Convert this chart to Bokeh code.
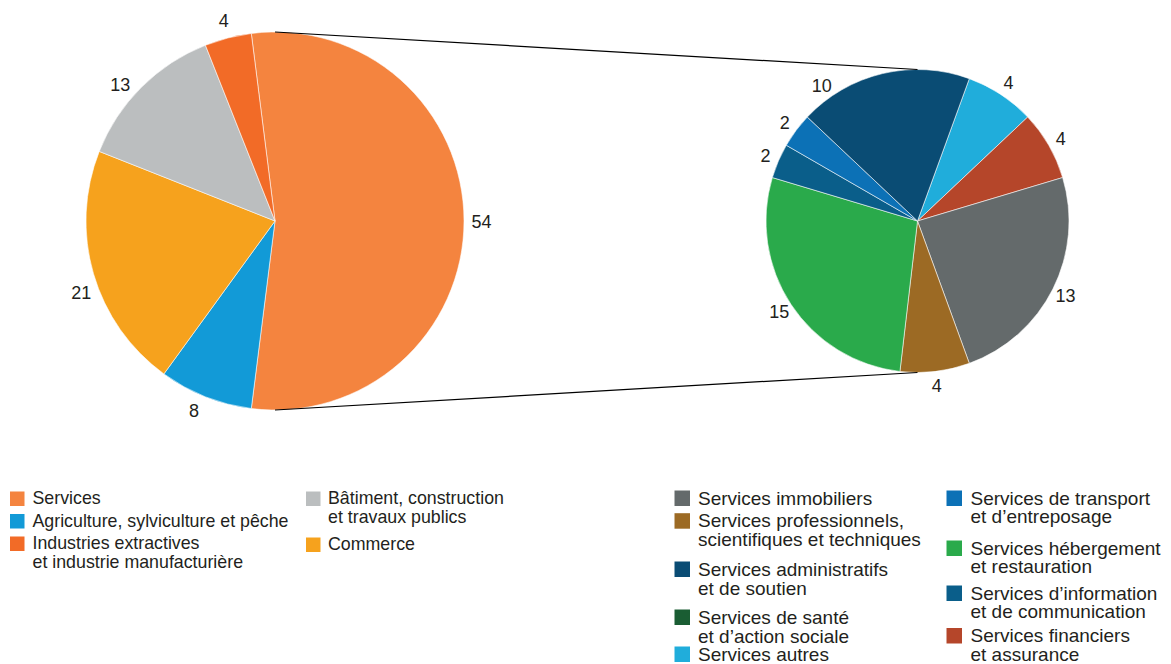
import math
from bokeh.plotting import figure
from bokeh.models import Range1d, ColumnDataSource
from bokeh.core.properties import value
from bokeh.embed import file_html
from bokeh.resources import INLINE

# ---------------- data ----------------
main_categories = ["Services",
                   "Agriculture, sylviculture et pêche",
                   "Commerce",
                   "Bâtiment, construction\net travaux publics",
                   "Industries extractives\net industrie manufacturière"]
main_values = [54, 8, 21, 13, 4]
main_colors = ["#F4843F", "#129AD7", "#F6A21D", "#BBBEBF", "#F26B27"]

service_categories = ["Services autres",
                      "Services financiers\net assurance",
                      "Services immobiliers",
                      "Services professionnels,\nscientifiques et techniques",
                      "Services hébergement\net restauration",
                      "Services d’information\net de communication",
                      "Services de transport\net d’entreposage",
                      "Services administratifs\net de soutien",
                      "Services de santé\net d’action sociale"]
service_values = [4, 4, 13, 4, 15, 2, 2, 10, 0]
service_colors = ["#20ADDB", "#B5462A", "#646A6B", "#9C6A24", "#2AAA4B",
                  "#0A5E8A", "#0C71B6", "#0A4C74", "#1A5D33"]

legend_left_col1 = ["Services", "Agriculture, sylviculture et pêche",
                    "Industries extractives\net industrie manufacturière"]
legend_left_col2 = ["Bâtiment, construction\net travaux publics", "Commerce"]
legend_right_col1 = ["Services immobiliers",
                     "Services professionnels,\nscientifiques et techniques",
                     "Services administratifs\net de soutien",
                     "Services de santé\net d’action sociale",
                     "Services autres"]
legend_right_col2 = ["Services de transport\net d’entreposage",
                     "Services hébergement\net restauration",
                     "Services d’information\net de communication",
                     "Services financiers\net assurance"]

# ---------------- layout ----------------
FONT = value("Liberation Sans")
TXT = "#231F20"
W, H = 1171, 664

p = figure(width=W, height=H, output_backend="svg", toolbar_location=None,
           x_range=Range1d(0, W), y_range=Range1d(-H, 0),
           x_axis_type=None, y_axis_type=None, min_border=0)
p.grid.visible = False
p.outline_line_color = None
p.background_fill_color = "white"

LEFT = dict(cx=274.5, cy=220.5, r=189.0, start=352.8, lab=17.5,
            nudge={"Bâtiment, construction\net travaux publics": -3.5, "Commerce": -4.0,
                   "Agriculture, sylviculture et pêche": 1.5})
RIGHT = dict(cx=917.0, cy=220.5, r=151.5, start=20.0, lab=14.0,
             nudge={"Services administratifs\net de soutien": -22.0})


def draw_pie(cfg, cats, vals, cols):
    total = float(sum(vals))
    a = cfg["start"]
    src = dict(s=[], e=[], c=[])
    lx, ly, lt = [], [], []
    for cat, v, col in zip(cats, vals, cols):
        if v <= 0:
            continue
        span = v / total * 360.0
        a0, a1 = a, a + span
        src["s"].append(math.radians(90 - a0))
        src["e"].append(math.radians(90 - a1))
        src["c"].append(col)
        mid = (a0 + a1) / 2 + cfg["nudge"].get(cat, 0.0)
        R = cfg["r"] + cfg["lab"]
        lx.append(cfg["cx"] + R * math.sin(math.radians(mid)))
        ly.append(-(cfg["cy"] - R * math.cos(math.radians(mid))))
        lt.append(str(v))
        a = a1
    p.wedge(x=cfg["cx"], y=-cfg["cy"], radius=cfg["r"], start_angle="s", end_angle="e",
            direction="clock", fill_color="c", line_color="white", line_width=0.8,
            line_alpha=0.7, source=ColumnDataSource(src))
    p.text(x=lx, y=ly, text=lt, text_align="center", text_baseline="middle",
           text_font=FONT, text_font_size="18px", text_color=TXT)


draw_pie(LEFT, main_categories, main_values, main_colors)
draw_pie(RIGHT, service_categories, service_values, service_colors)

# connector lines between the two pies
p.segment(x0=[LEFT["cx"], LEFT["cx"]],
          y0=[-(LEFT["cy"] - LEFT["r"]), -(LEFT["cy"] + LEFT["r"])],
          x1=[RIGHT["cx"], RIGHT["cx"]],
          y1=[-(RIGHT["cy"] - RIGHT["r"]), -(RIGHT["cy"] + RIGHT["r"])],
          line_color="black", line_width=1.2)

# ---------------- legends ----------------
color_of = dict(zip(main_categories, main_colors))
color_of.update(zip(service_categories, service_colors))


def draw_legend(items, tops, sq_x, sq, text_x, mid_off, line_h, fsize):
    qs = dict(l=[], r=[], t=[], b=[], c=[])
    tx, ty, tt = [], [], []
    for item, top in zip(items, tops):
        qs["l"].append(sq_x)
        qs["r"].append(sq_x + sq)
        qs["t"].append(-top)
        qs["b"].append(-(top + sq))
        qs["c"].append(color_of[item])
        for i, line in enumerate(item.split("\n")):
            tx.append(text_x)
            ty.append(-(top + mid_off + i * line_h))
            tt.append(line)
    p.quad(left="l", right="r", top="t", bottom="b", fill_color="c", line_color=None,
           source=ColumnDataSource(qs))
    p.text(x=tx, y=ty, text=tt, text_align="left", text_baseline="middle",
           text_font=FONT, text_font_size=fsize, text_color=TXT)


draw_legend(legend_left_col1, [491, 513.5, 536], 9.5, 14.5, 32, 6.5, 18.5, "17.8px")
draw_legend(legend_left_col2, [491, 537], 305.5, 14.5, 327.5, 6.5, 18.5, "17.8px")
draw_legend(legend_right_col1, [490, 512.7, 561, 609, 646], 674, 15.5, 697.5, 7.5, 19, "19px")
draw_legend(legend_right_col2, [490, 540, 585, 627.5], 946, 15.5, 970, 7.5, 18.5, "19px")

open("out.html", "w").write(file_html(p, INLINE))
